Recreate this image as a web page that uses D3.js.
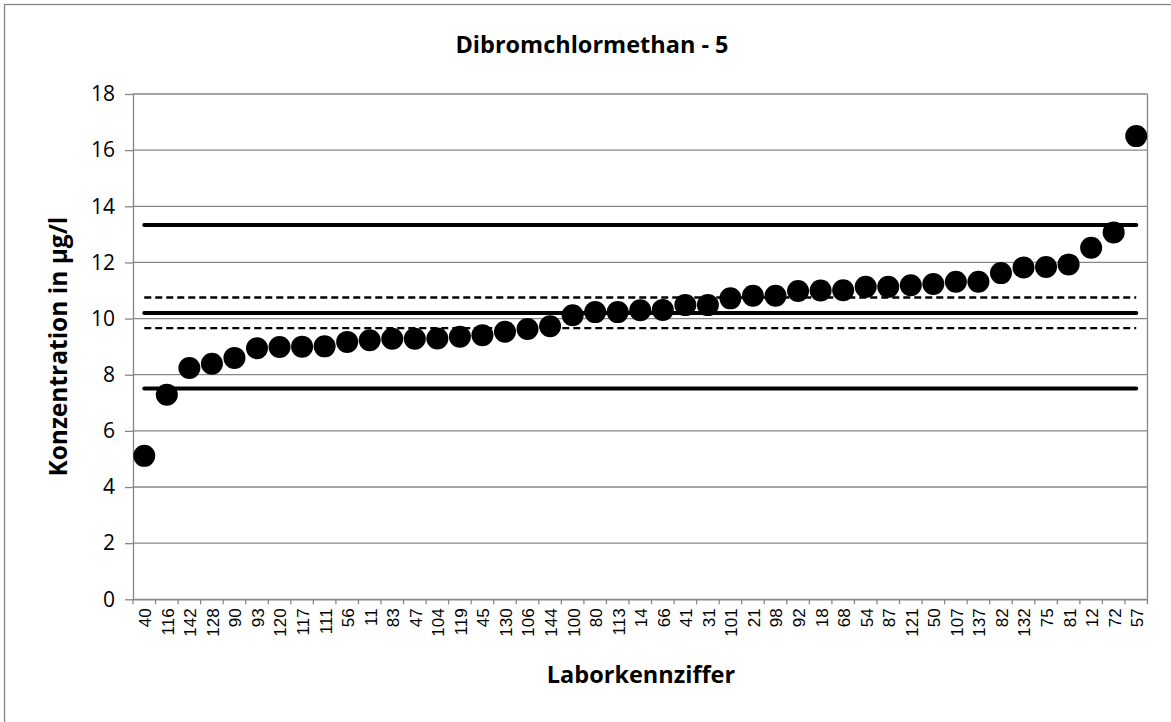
<!DOCTYPE html>
<html>
<head>
<meta charset="utf-8">
<script src="https://cdn.jsdelivr.net/npm/d3@7"></script>
<style>
  html, body { margin: 0; padding: 0; background: #fff; }
  svg { display: block; }
</style>
</head>
<body>
<svg id="chart" width="1171" height="722"></svg>
<script>
// Laboratory codes along the x axis, in plotted order
const labs = ["40","116","142","128","90","93","120","117","111","56","11","83","47","104","119",
  "45","130","106","144","100","80","113","14","66","41","31","101","21","98","92","18","68",
  "54","87","121","50","107","137","82","132","75","81","12","72","57"];

// Reported concentration per laboratory (µg/l)
const concentrations = [5.11,7.29,8.24,8.39,8.60,8.94,8.99,9.00,9.01,9.17,9.23,9.28,9.28,9.29,9.35,
  9.41,9.53,9.63,9.73,10.12,10.23,10.23,10.30,10.31,10.48,10.48,10.72,10.81,10.81,10.98,11.00,11.01,
  11.13,11.13,11.19,11.23,11.31,11.31,11.62,11.82,11.84,11.93,12.52,13.07,16.50];

// Tolerance limits and assigned value (solid), uncertainty band (dashed)
const solidLevels = [13.33, 10.20, 7.51];
const dashedLevels = [10.75, 9.66];

const yTickValues = [0, 2, 4, 6, 8, 10, 12, 14, 16, 18];

const title = "Dibromchlormethan - 5";
const xTitle = "Laborkennziffer";
const yTitle = "Konzentration in µg/l";

const svg = d3.select("#chart");
const W = 1171, H = 722;
const plot = { left: 133, right: 1147.5, top: 94, bottom: 599.3 };
const gridColor = "#878787";

// Outer chart frame
svg.append("rect")
  .attr("x", 4.5).attr("y", 4.5)
  .attr("width", W).attr("height", H)
  .attr("fill", "#fff").attr("stroke", gridColor).attr("stroke-width", 1.3);

const x = d3.scaleBand().domain(labs).range([plot.left, plot.right]);
const y = d3.scaleLinear().domain([0, 18]).range([plot.bottom, plot.top]);
const cx = d => x(d) + x.bandwidth() / 2;

// Horizontal gridlines
svg.append("g").selectAll("line")
  .data(yTickValues)
  .join("line")
  .attr("x1", plot.left).attr("x2", plot.right)
  .attr("y1", d => y(d)).attr("y2", d => y(d))
  .attr("stroke", gridColor).attr("stroke-width", 1.3);

// Right border of plot area
svg.append("line")
  .attr("x1", plot.right).attr("x2", plot.right)
  .attr("y1", plot.top).attr("y2", plot.bottom)
  .attr("stroke", gridColor).attr("stroke-width", 1.3);

// Y axis
const yAxis = svg.append("g")
  .attr("transform", `translate(${plot.left},0)`)
  .call(d3.axisLeft(y).tickValues(yTickValues).tickSize(8).tickSizeOuter(0).tickPadding(10));
yAxis.select(".domain").attr("stroke", gridColor).attr("stroke-width", 1.3);
yAxis.selectAll(".tick line").attr("stroke", gridColor).attr("stroke-width", 1.3);
yAxis.selectAll(".tick text")
  .attr("font-family", "'Open Sans', sans-serif")
  .attr("font-size", 21)
  .attr("fill", "#000");

// X axis: labels at category centres, ticks at category boundaries
const xAxis = svg.append("g")
  .attr("transform", `translate(0,${plot.bottom})`)
  .call(d3.axisBottom(x).tickSize(0).tickSizeOuter(0).tickPadding(0));
xAxis.select(".domain").attr("stroke", gridColor).attr("stroke-width", 1.3);
xAxis.selectAll(".tick text")
  .attr("font-family", "'Liberation Sans', Arial, sans-serif")
  .attr("font-size", 17)
  .attr("fill", "#000")
  .attr("text-anchor", "end")
  .attr("transform", "translate(1,9) rotate(-90)")
  .attr("x", 0).attr("y", 0).attr("dy", "0.35em");

const boundaries = labs.map(d => x(d)).concat([plot.right]);
svg.append("g").selectAll("line")
  .data(boundaries)
  .join("line")
  .attr("x1", d => d).attr("x2", d => d)
  .attr("y1", plot.bottom).attr("y2", plot.bottom + 5)
  .attr("stroke", gridColor).attr("stroke-width", 1.3);

// Reference lines
const xStart = cx(labs[0]), xEnd = cx(labs[labs.length - 1]);
svg.append("g").selectAll("line")
  .data(dashedLevels)
  .join("line")
  .attr("x1", xStart).attr("x2", xEnd)
  .attr("y1", d => y(d)).attr("y2", d => y(d))
  .attr("stroke", "#000").attr("stroke-width", 2.3)
  .attr("stroke-dasharray", "7,4");

svg.append("g").selectAll("line")
  .data(solidLevels)
  .join("line")
  .attr("x1", xStart).attr("x2", xEnd)
  .attr("y1", d => y(d)).attr("y2", d => y(d))
  .attr("stroke", "#000").attr("stroke-width", 4)
  .attr("stroke-linecap", "round");

// Data points
svg.append("g").selectAll("circle")
  .data(labs.map((l, i) => ({ lab: l, value: concentrations[i] })))
  .join("circle")
  .attr("cx", d => cx(d.lab))
  .attr("cy", d => y(d.value))
  .attr("r", 11)
  .attr("fill", "#000");

// Titles
svg.append("text")
  .attr("x", 592).attr("y", 53)
  .attr("text-anchor", "middle")
  .attr("font-family", "'Open Sans', sans-serif")
  .attr("font-weight", "bold")
  .attr("font-size", 23.5)
  .text(title);

svg.append("text")
  .attr("x", 641).attr("y", 683)
  .attr("text-anchor", "middle")
  .attr("font-family", "'Open Sans', sans-serif")
  .attr("font-weight", "bold")
  .attr("font-size", 23.5)
  .text(xTitle);

svg.append("text")
  .attr("transform", `translate(67,${(plot.top + plot.bottom) / 2}) rotate(-90)`)
  .attr("text-anchor", "middle")
  .attr("font-family", "'Open Sans', sans-serif")
  .attr("font-weight", "bold")
  .attr("font-size", 24.5)
  .text(yTitle);
</script>
</body>
</html>
